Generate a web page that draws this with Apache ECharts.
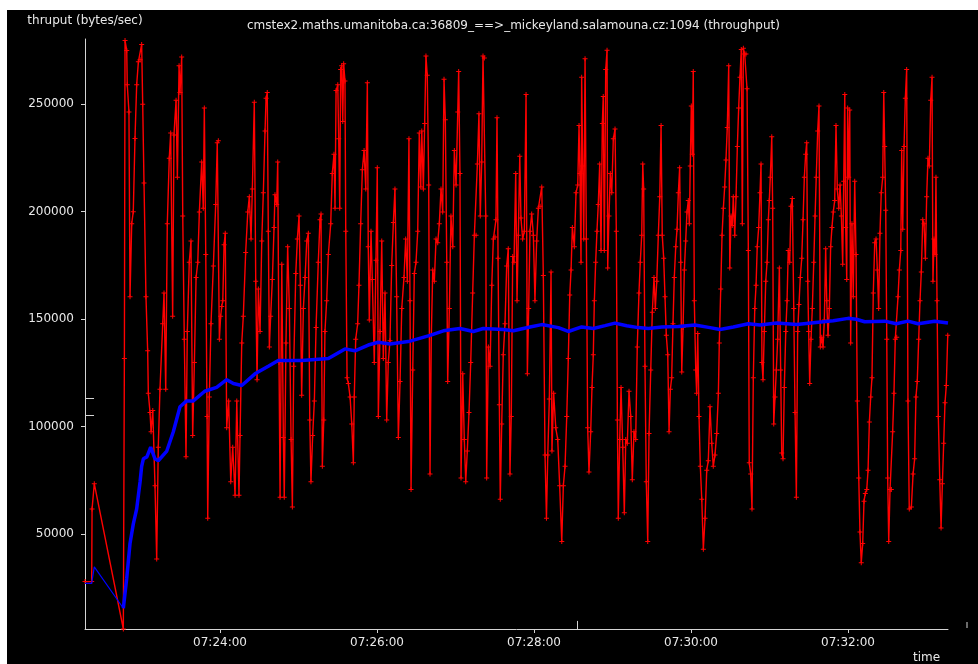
<!DOCTYPE html>
<html><head><meta charset="utf-8">
<script src="https://cdn.jsdelivr.net/npm/echarts@6/dist/echarts.min.js"></script>
<style>
html,body{margin:0;padding:0;background:#ffffff;width:978px;height:664px;overflow:hidden}
#c{position:absolute;left:7px;top:10px;width:971px;height:654px}
</style>
</head><body><div id="c"></div>
<script>
const titleText = 'cmstex2.maths.umanitoba.ca:36809_==>_mickeyland.salamouna.cz:1094 (throughput)';
const yAxisName = 'thruput (bytes/sec)';
const xAxisName = 'time';
const yTicks = [50000, 100000, 150000, 200000, 250000];
const xTickSec = [120, 240, 360, 480, 600];
const xTickLabels = ['07:24:00', '07:26:00', '07:28:00', '07:30:00', '07:32:00'];
const xMin = 16.8, xMax = 676.4;
const yMin = 5950, yMax = 280300;

// red: instantaneous throughput, seconds after 07:22:00
const redSec = [
16.8,21.9,22.2,23.9,46.1,46.9,47.4,48.7,49.1,50.4,
51.2,52.5,53.7,55.0,56.3,57.6,58.9,60.1,60.9,61.9,
63.4,64.7,65.2,66.5,67.3,68.6,70.3,71.6,72.8,74.1,
76.2,77.2,78.5,79.7,81.2,82.3,83.8,84.8,86.4,87.4,
88.7,89.4,90.7,91.5,92.7,94.0,95.0,96.5,97.8,99.1,
100.4,101.7,103.0,104.2,106.0,107.2,108.0,109.1,110.1,110.6,
111.8,113.1,114.9,116.7,117.9,118.7,119.5,120.5,121.3,122.1,
123.1,124.0,125.1,126.6,128.2,129.7,131.5,132.8,134.5,135.3,
136.6,137.8,139.6,141.2,142.4,143.7,144.7,146.2,147.3,148.3,
149.3,150.6,151.9,153.1,154.4,155.2,156.1,156.9,157.7,158.7,
160.0,161.3,162.0,163.3,164.1,165.1,165.9,167.2,168.4,169.1,
170.4,171.7,173.0,174.3,175.3,176.3,177.9,179.1,180.4,181.4,
182.4,183.7,185.0,186.3,187.5,188.6,189.5,190.8,192.1,193.4,
195.1,196.4,197.2,198.2,199.3,200.2,201.5,202.8,204.6,205.8,
207.1,207.9,208.7,210.0,210.7,211.5,212.2,213.0,213.8,214.5,
215.5,216.1,217.1,218.1,219.4,220.7,221.9,222.6,223.7,225.2,
226.2,227.5,228.8,230.1,231.4,232.6,233.3,234.1,235.4,236.4,
237.9,239.2,240.2,241.0,242.3,243.6,244.8,246.1,247.4,248.6,
249.9,251.2,252.5,253.7,255.0,256.3,257.6,258.9,260.6,261.9,
263.2,264.4,265.2,266.0,267.3,268.5,269.8,271.1,272.3,273.4,
274.2,275.4,276.4,277.4,278.4,279.5,280.5,281.5,282.6,283.8,
285.1,286.4,287.6,288.9,290.2,291.2,292.2,293.3,294.0,295.3,
296.5,297.9,299.1,300.4,301.7,302.4,303.4,304.2,305.5,306.7,
307.8,309.0,310.3,311.6,313.1,314.4,315.7,316.7,317.9,318.9,
320.0,321.0,322.0,323.1,323.8,325.1,326.4,327.7,328.9,330.2,
330.9,331.7,332.5,333.5,334.2,335.3,336.5,337.8,339.1,340.3,
341.6,342.6,343.7,344.7,346.0,347.0,348.0,349.1,350.0,351.3,
352.6,353.9,354.9,355.9,356.9,358.2,359.5,360.7,362.0,363.3,
364.6,365.9,367.1,368.4,369.5,370.5,371.7,373.0,373.7,375.0,
376.6,378.1,379.6,381.2,382.4,383.7,385.0,386.2,387.3,388.3,
389.3,390.8,392.1,393.4,394.4,395.1,395.9,396.4,397.2,398.0,
399.0,400.0,401.0,402.0,403.3,404.3,405.3,406.1,407.1,408.1,
409.1,410.2,411.2,412.2,412.9,413.7,414.8,415.8,416.3,417.3,
418.3,419.4,420.6,421.9,422.9,423.7,424.4,425.5,426.5,427.8,
429.0,430.1,431.3,432.6,433.9,435.1,436.4,437.7,438.9,440.2,
441.2,442.3,443.1,443.8,444.8,445.8,446.9,447.9,449.2,450.4,
451.7,452.7,453.8,455.0,456.1,457.1,458.0,459.1,460.1,461.1,
462.2,463.2,464.2,465.2,466.2,467.2,468.3,469.3,470.3,471.3,
472.1,472.9,473.9,474.9,475.9,476.9,477.9,478.7,479.4,480.2,
481.0,481.7,482.5,483.6,484.3,485.1,486.1,487.1,488.2,489.4,
490.7,492.0,493.2,494.5,495.8,497.0,498.3,499.6,500.9,501.6,
502.7,503.7,504.7,505.7,506.7,507.7,508.8,509.6,510.6,511.5,
512.3,513.4,514.4,515.4,516.4,517.4,518.4,519.2,520.0,521.0,
522.0,522.8,523.8,524.5,525.6,526.6,527.6,528.7,529.7,530.6,
531.7,532.7,533.5,534.2,535.0,536.0,537.1,538.1,539.1,539.8,
540.6,541.7,542.4,543.2,544.2,545.2,546.2,547.5,548.5,549.3,
550.3,551.3,552.4,553.4,554.3,555.4,556.4,557.4,558.5,559.5,
560.5,561.5,562.5,563.5,564.6,565.6,566.6,567.6,568.4,569.2,
569.9,570.7,571.7,572.7,573.8,574.8,575.7,576.8,577.8,578.8,
579.9,580.9,581.9,582.9,583.7,584.7,585.7,586.7,587.7,588.7,
589.8,590.8,591.8,592.9,593.9,594.9,595.9,596.7,597.5,598.2,
599.0,599.7,600.5,601.3,602.0,603.0,604.0,605.1,606.1,607.1,
608.2,609.1,610.1,611.2,612.2,613.2,614.3,615.3,616.3,617.3,
618.3,619.3,620.4,621.4,622.4,623.4,624.4,625.4,626.5,627.3,
628.0,628.8,629.6,630.3,631.1,632.1,633.1,634.1,635.1,636.1,
637.2,638.2,639.2,640.3,641.0,641.8,642.8,643.8,644.8,645.8,
646.8,648.4,649.7,650.9,651.9,652.9,654.0,655.0,656.0,657.1,
658.1,659.1,660.1,661.1,662.1,663.2,664.2,664.9,665.7,666.5,
667.2,668.0,669.0,670.1,671.1,672.1,673.1,674.1,675.1,676.2
];
const redVal = [
28000,28000,61800,73500,5950,131700,279600,275000,259000,246400,
160400,194400,200000,234000,259000,269700,270600,277800,250000,213300,
160400,135300,115600,106600,97700,107500,72600,38500,90500,117400,
147900,162200,117400,194400,224900,236600,151400,235700,251800,216000,
267900,255400,271900,198000,140700,86000,144300,176500,186400,95900,
129900,169400,176500,199800,223100,201600,248200,180100,104800,57400,
113800,147900,174700,203400,232100,233000,140700,151400,155900,158600,
184600,190000,99500,112000,74400,90500,68100,112000,68100,95900,
138900,151400,181000,199800,207000,187300,210600,250900,167600,121900,
164000,144300,186400,208800,237500,252700,255400,190900,137100,151400,
168500,192700,207900,203400,223100,129900,67200,175600,95000,67200,
138900,183700,155000,94100,62700,128100,171200,187300,198000,165800,
114700,155000,169400,186400,190000,103100,74400,95900,112000,146100,
176500,196200,198900,81600,103100,144300,158600,180100,194400,217700,
226700,201600,256300,259000,233900,201600,266100,267900,241900,268800,
260800,190900,122800,120100,113800,101300,83300,113800,140700,147900,
165800,194400,219500,228500,210600,259900,183700,149600,190900,168500,
129900,177400,220400,104800,144300,186400,131700,162200,103100,129900,
140000,175000,195000,210600,160400,95000,121000,155000,169400,187300,
167600,233900,158600,70800,126400,171200,176500,190900,236600,211500,
237500,210600,241000,272400,263400,212400,78000,142500,172900,167600,
187300,185500,194400,210600,199800,261600,242800,176500,121000,155000,
198000,183700,228500,212400,246400,265200,217700,76200,124600,94100,
74400,88700,106600,129900,162200,189100,189100,222200,245500,198000,
223100,272400,271500,198000,76200,137100,128100,165800,187300,188200,
196200,243700,178300,110200,66300,101300,133500,147900,174700,182800,
78000,104800,179200,176500,217700,158600,189100,225800,197100,187300,
190900,254500,124600,155000,190900,198900,189100,158600,186400,201600,
202500,211500,170300,86900,57400,86900,112900,172000,88700,115600,
99500,94100,72600,46600,72600,81600,104800,131700,161300,172900,
192700,183700,208800,212400,240100,217700,176500,262500,221300,187300,
271100,187300,99500,78900,97700,118300,133500,158600,176500,190900,
203400,222200,181900,241000,253600,181900,266100,275100,173800,198000,
217700,208800,233900,238400,190900,103100,57400,94100,118300,90500,
60000,94100,92300,116500,104800,75300,97700,94100,137100,162200,
176500,189100,222200,210600,128100,74400,46600,96800,126400,153200,
169400,155000,167600,189100,207000,240100,189100,178300,160400,142500,
133500,97700,117400,122800,147900,169400,183700,191800,208800,220400,
176500,125500,146100,172900,186400,199800,205200,194400,221300,249100,
226700,265200,158600,126400,115600,143400,104800,81600,66300,43000,
57400,79800,84200,109300,92300,81600,86900,96800,115600,138900,
164000,189100,201600,211500,224000,239200,267900,173800,198000,193600,
207000,189100,207000,230300,248200,262500,275400,194400,276000,273300,
273300,257200,181900,83300,78000,61800,122800,155000,165800,183700,
192700,208800,222200,129900,121900,144300,167600,176500,196200,205200,
216000,234800,201600,101300,113800,126400,140700,173800,126400,87800,
85100,118300,144300,158600,181900,176500,202500,206100,155000,106600,
67200,144300,156800,169400,178300,196200,216000,226700,232100,167600,
144300,120100,140700,155000,176500,198000,216000,237500,249100,137100,
141600,137100,149600,182800,158600,142500,155000,183700,192700,199800,
205200,240100,210600,201600,212400,198000,175600,214200,254500,192700,
168500,248200,216000,247300,138900,194400,160400,214200,180100,112000,
76200,51100,36800,45700,65400,69000,70800,79800,102200,113800,
122800,162200,185500,187300,172900,155000,190000,208800,216000,255400,
230300,200700,140700,76200,46600,70800,70800,97700,115600,140700,
141600,160400,172900,181900,228500,191800,230300,252700,266100,112000,
61800,62700,78000,85100,113800,121000,140700,158600,172000,196200,
194400,178300,207000,224900,221300,251800,262500,167600,187300,180100,
216000,158600,104800,75300,52900,73500,92300,111100,119200,142500
];

// blue: average throughput (first points drawn thin, rest thick, as in the original plot)
const blueSec = [16.8,21.9,23.9,46.1,48.7,51.2,53.7,56.3,58.9,60.1,61.4,64.1,67.0,70.3,72.8,79.3,84.3,89.4,94.5,99.6,
108.3,117.4,125.1,130.2,136.6,146.7,156.9,164.5,182.4,202.8,215.5,223.1,233.3,240.9,249.9,265.2,280.5,290.7,303.4,313.6,
321.2,336.5,344.2,356.9,365.9,378.6,386.2,396.4,405.3,414.3,421.9,430.8,439.7,447.3,457.6,470.3,483.0,494.5,502.1,512.3,
523.8,532.7,545.5,560.8,573.5,588.7,600.0,606.3,612.7,628.0,636.9,645.8,653.5,666.2,676.4];
const blueVal = [27200,27200,34800,15600,29600,45700,54700,61800,74400,81600,85100,86000,90500,85100,84200,88700,97700,109300,112000,112000,
116500,118300,121900,120100,119200,124600,128100,130800,130800,131700,136200,135300,138000,139300,138500,139800,142500,144600,145700,144300,
145700,145200,144600,146400,147500,146100,144300,146400,145700,147000,148200,147000,146100,145700,146400,146600,147300,146100,145200,146400,
147900,147300,148200,147500,148400,149300,150400,150000,148800,149100,147900,149100,147900,149100,148200];
const blueThinCount = 4;

// small axis markers drawn by the original tool
const sideMarkVals = [113400, 105300];
const sideMarkSec = [16.8, 23.7];
const bottomMarkSec = 393.4;
const bottomMarkVals = [5950, 9700];

const AXIS = '#d4d4d4';
const TEXT = '#e8e8e8';
const FONT = 'DejaVu Sans';
const plus = 'path://M2,0h1v2h2v1h-2v2h-1v-2h-2v-1h2z';

const redData = redSec.map((s, i) => [s, redVal[i]]);
const blueData = blueSec.map((s, i) => [s, blueVal[i]]);
const blueThin = blueData.slice(0, blueThinCount);
const blueThick = blueData.slice(blueThinCount - 1);

const markData = sideMarkVals.map(v => [{coord: [sideMarkSec[0], v]}, {coord: [sideMarkSec[1], v]}]);
markData.push([{coord: [bottomMarkSec, bottomMarkVals[0]]}, {coord: [bottomMarkSec, bottomMarkVals[1]]}]);

const chart = echarts.init(document.getElementById('c'), null, {renderer: 'canvas'});
chart.setOption({
  backgroundColor: '#000000',
  animation: false,
  textStyle: {fontFamily: FONT},
  title: {
    text: titleText, left: 240, top: 10, padding: 0,
    textStyle: {color: TEXT, fontSize: 12, fontWeight: 'normal', fontFamily: FONT}
  },
  grid: {left: 78, top: 29, width: 863, height: 590, containLabel: false},
  xAxis: {
    type: 'value', min: xMin, max: xMax,
    axisLine: {show: true, lineStyle: {color: AXIS, width: 1}},
    axisTick: {show: true, length: 4, lineStyle: {color: AXIS}, customValues: xTickSec},
    axisLabel: {
      color: TEXT, fontSize: 12, fontFamily: FONT, margin: 8,
      customValues: xTickSec,
      formatter: v => { const i = xTickSec.indexOf(v); return i >= 0 ? xTickLabels[i] : ''; }
    },
    splitLine: {show: false}
  },
  yAxis: {
    type: 'value', min: yMin, max: yMax,
    name: yAxisName, nameLocation: 'end', nameGap: 12,
    nameTextStyle: {color: TEXT, fontSize: 12, fontFamily: FONT, align: 'center'},
    axisLine: {show: true, lineStyle: {color: AXIS, width: 1}},
    axisTick: {show: true, length: 4, lineStyle: {color: AXIS}, customValues: yTicks},
    axisLabel: {
      color: TEXT, fontSize: 12, fontFamily: FONT, margin: 11,
      customValues: yTicks,
      formatter: v => String(v)
    },
    splitLine: {show: false}
  },
  series: [
    {
      name: 'thruput', type: 'line', data: redData,
      showSymbol: true, showAllSymbol: true,
      symbol: plus, symbolSize: 5,
      itemStyle: {color: '#ff0000'},
      lineStyle: {color: '#ff0000', width: 1.4},
      z: 2, silent: true, emphasis: {disabled: true}
    },
    {
      name: 'average-start', type: 'line', data: blueThin,
      showSymbol: false,
      lineStyle: {color: '#0000ff', width: 1.2},
      z: 3, silent: true, emphasis: {disabled: true}
    },
    {
      name: 'average', type: 'line', data: blueThick,
      showSymbol: false,
      itemStyle: {color: '#0000ff'},
      lineStyle: {color: '#0000ff', width: 3.5},
      z: 3, silent: true, emphasis: {disabled: true},
      markLine: {
        silent: true, symbol: ['none', 'none'], label: {show: false},
        lineStyle: {color: AXIS, width: 1, type: 'solid'},
        emphasis: {disabled: true},
        data: markData
      }
    }
  ],
  graphic: [
    {type: 'text', left: 906, top: 642, style: {text: xAxisName, fill: TEXT, font: '12px "DejaVu Sans"'}},
    {type: 'line', shape: {x1: 960, y1: 612, x2: 960, y2: 618}, style: {stroke: AXIS, lineWidth: 1}}
  ]
});
</script>
</body></html>
